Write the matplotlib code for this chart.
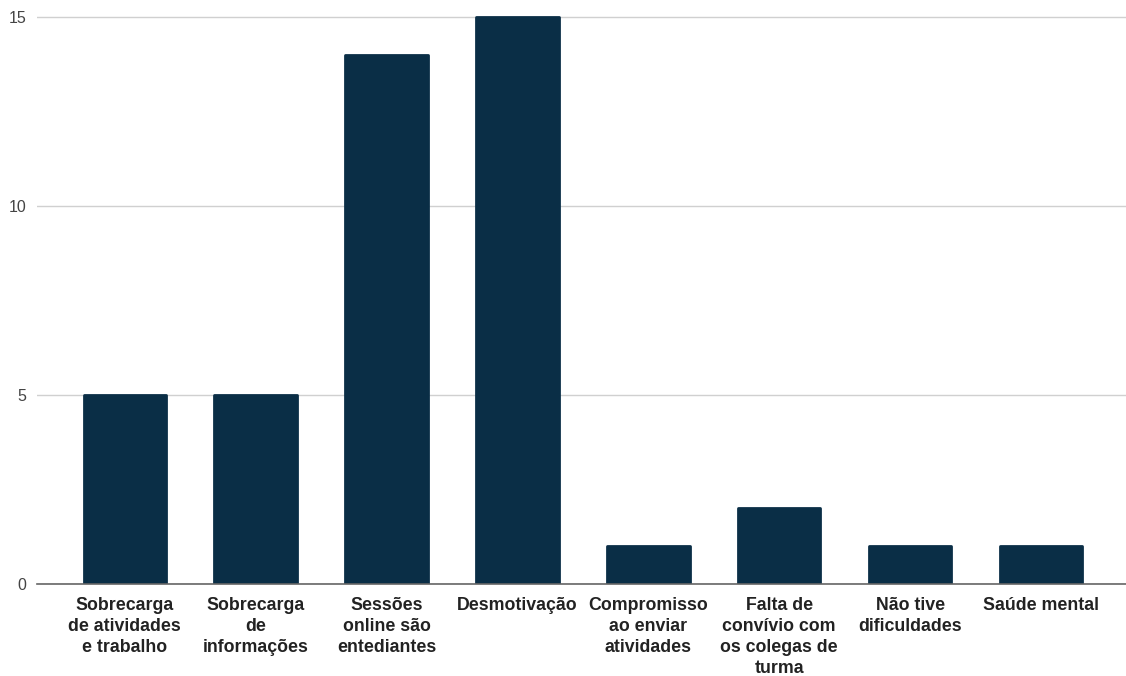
import numpy as np
import matplotlib
matplotlib.use("Agg")
import matplotlib.pyplot as plt

plt.rcParams['font.family'] = ['Liberation Sans', 'DejaVu Sans']

# answers to "main difficulties" question
categories = [
    "Sobrecarga\nde atividades\ne trabalho",
    "Sobrecarga\nde\ninformações",
    "Sessões\nonline são\nentediantes",
    "Desmotivação",
    "Compromisso\nao enviar\natividades",
    "Falta de\nconvívio com\nos colegas de\nturma",
    "Não tive\ndificuldades",
    "Saúde mental",
]
counts = [5, 5, 14, 15, 1, 2, 1, 1]
yticks = [0, 5, 10, 15]

bar_color = "#0a2e46"

fig = plt.figure(figsize=(11.26, 6.76), dpi=100)
ax = fig.add_axes([0.033, 0.136, 0.967, 0.85])

x = np.arange(len(categories))
# thin edge with round joins gives the slightly rounded corners
ax.bar(x, counts, width=0.63, color=bar_color, edgecolor=bar_color,
       linewidth=2, joinstyle='round', zorder=3)

ax.set_xlim(-0.67, 7.65)
ax.set_ylim(0, 15.2)
ax.set_yticks(yticks)
ax.set_xticks(x)
ax.set_xticklabels(categories, fontsize=12.8, fontweight='bold', color='#222222',
                   linespacing=1.33, va='top')
ax.tick_params(axis='x', length=0, pad=9)
ax.tick_params(axis='y', length=0, pad=8, labelsize=11.5, labelcolor='#444444')

ax.grid(axis='y', color='#d0d0d0', linewidth=1, zorder=0)
for s in ['top', 'right', 'left']:
    ax.spines[s].set_visible(False)
ax.spines['bottom'].set_color('#666666')
ax.spines['bottom'].set_linewidth(1.2)
ax.spines['bottom'].set_zorder(4)

fig.savefig("out.png", dpi=100, facecolor='white')
